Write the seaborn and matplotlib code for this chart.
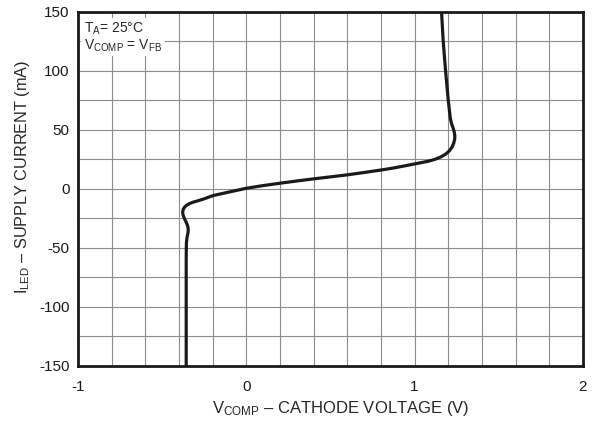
import numpy as np
import pandas as pd
import matplotlib.pyplot as plt
import seaborn as sns
import matplotlib.ticker as ticker

# curve, in drawing order (bottom -> top)
v_comp = [-0.357, -0.357, -0.357, -0.356, -0.352, -0.346, -0.345, -0.349, -0.358, -0.368,
          -0.376, -0.378, -0.374, -0.364, -0.352, -0.335, -0.315, -0.29, -0.26, -0.196,
          -0.10, 0.003, 0.10, 0.20, 0.30, 0.40, 0.50, 0.60, 0.70, 0.80,
          0.87, 0.93, 0.98, 1.03, 1.08, 1.12, 1.155, 1.185, 1.207, 1.222,
          1.232, 1.238, 1.239, 1.236, 1.229, 1.220, 1.212, 1.200, 1.184, 1.170, 1.160]
i_led = [-150, -100, -60, -46, -41, -37, -34, -31, -28, -25,
         -22, -19.5, -17, -15, -13.6, -12.3, -11.2, -10.2, -8.9, -5.6,
         -2.6, 0.6, 2.8, 4.8, 6.7, 8.5, 10.2, 11.9, 13.9, 16.0,
         17.6, 19.2, 20.6, 22.0, 23.4, 25.0, 27.0, 29.5, 32.3, 35.4,
         38.6, 42.0, 45.0, 48.0, 51.5, 55.0, 60.0, 75.0, 100, 125, 150]

xticks = [-1, 0, 1, 2]
yticks = [-150, -100, -50, 0, 50, 100, 150]

data = pd.DataFrame({"V": v_comp, "I": i_led})

sns.set_style("white")
plt.rcParams["font.family"] = ["Liberation Sans", "DejaVu Sans"]
plt.rcParams["font.size"] = 11
plt.rcParams["axes.unicode_minus"] = False
plt.rcParams["mathtext.fontset"] = "custom"
plt.rcParams["mathtext.rm"] = "Liberation Sans"

fig, ax = plt.subplots(figsize=(5.93, 4.24), dpi=100)
sns.lineplot(data=data, x="V", y="I", sort=False, estimator=None,
             color="#1a1a1a", linewidth=2.3, ax=ax, zorder=3)

ax.set_xlim(-1, 2)
ax.set_ylim(-150, 150)
ax.set_xticks(xticks)
ax.set_yticks(yticks)
ax.xaxis.set_minor_locator(ticker.MultipleLocator(0.2))
ax.yaxis.set_minor_locator(ticker.MultipleLocator(25))
ax.grid(which="both", color="#8c8c8c", linewidth=0.8)
ax.tick_params(which="both", length=0, labelsize=11, colors="#1a1a1a")
ax.tick_params(axis="x", pad=10)
ax.tick_params(axis="y", pad=6)
for s in ax.spines.values():
    s.set_visible(True)
    s.set_color("#1a1a1a")
    s.set_linewidth(2)

ax.set_xlabel(r"$\mathregular{V_{COMP}}$ – CATHODE VOLTAGE (V)", fontsize=12, labelpad=4)
ax.set_ylabel(r"$\mathregular{I_{LED}}$ – SUPPLY CURRENT (mA)", fontsize=11.7, labelpad=5)
ax.xaxis.label.set_x(0.521)
ax.yaxis.label.set_y(0.534)

ax.text(0.012, 0.975, "$\\mathregular{T_A}$= 25°C\n$\\mathregular{V_{COMP}}$ = $\\mathregular{V_{FB}}$",
        transform=ax.transAxes, ha="left", va="top", fontsize=10, linespacing=1.0,
        bbox=dict(facecolor="white", edgecolor="none", pad=2), zorder=4)

plt.subplots_adjust(left=0.1315, right=0.983, top=0.972, bottom=0.137)
plt.savefig("out.png", dpi=100)
